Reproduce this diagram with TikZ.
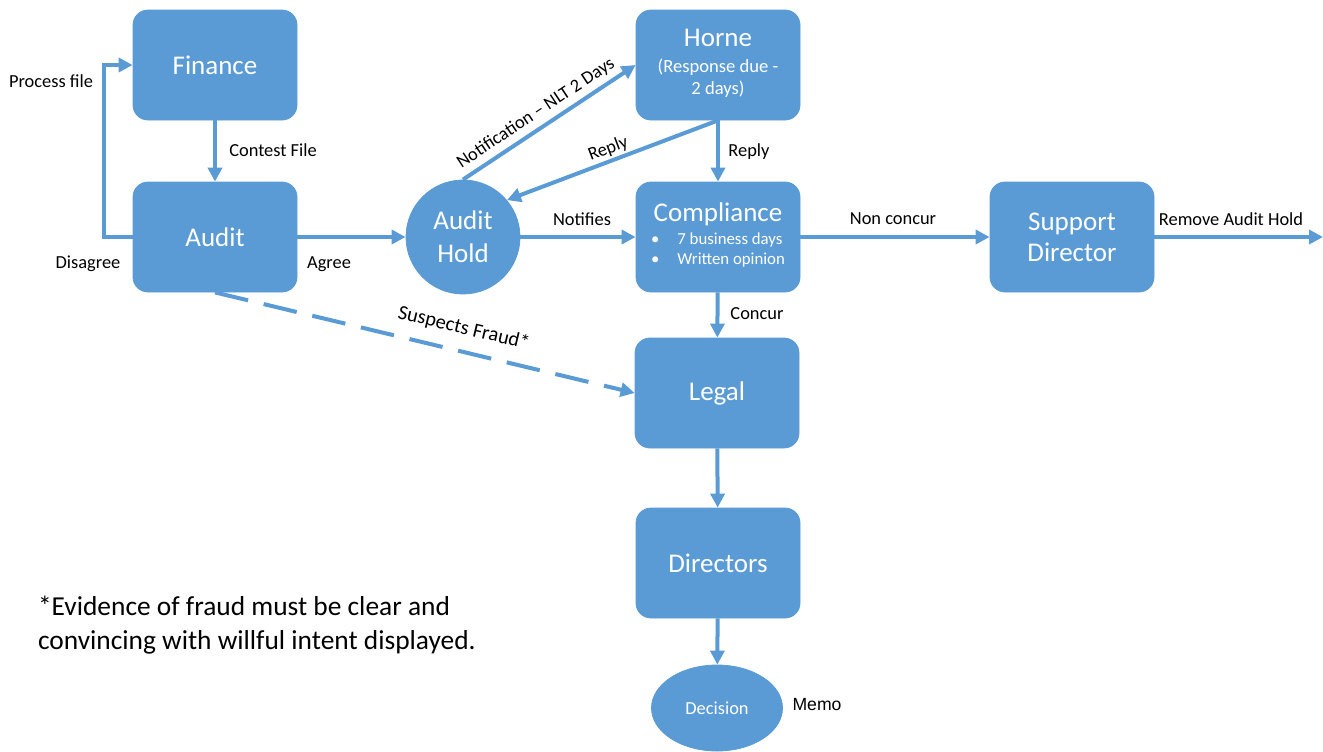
\documentclass[tikz,border=0pt]{standalone}
\usepackage{fontspec}
\setmainfont{Carlito}
\newfontfamily\memofont{Liberation Sans}
\usetikzlibrary{arrows.meta,shapes.geometric}
\definecolor{flowblue}{HTML}{5B9BD5}
\newcommand{\subfont}{\fontsize{9.3}{11}\selectfont}
\newcommand{\bulfont}{\fontsize{8.4}{10}\selectfont}
\tikzset{
  box/.style={rectangle,rounded corners=7.5pt,fill=flowblue,draw=flowblue,text=white,minimum width=82pt,minimum height=55pt,inner sep=2pt,align=center,font=\fontsize{13.5}{15.5}\selectfont},
  hold/.style={circle,fill=flowblue,draw=flowblue,text=white,minimum size=57pt,inner sep=0pt,align=center,font=\fontsize{13.5}{16.5}\selectfont},
  oval/.style={ellipse,fill=flowblue,draw=flowblue,text=white,minimum width=65.5pt,minimum height=43pt,inner sep=0pt,font=\fontsize{9.2}{11}\selectfont},
  lbl/.style={text=black,inner sep=1pt,font=\fontsize{9.2}{11}\selectfont},
  arr/.style={draw=flowblue,line width=2pt,-{Triangle[length=7pt,width=7pt]}}
}
\begin{document}
\begin{tikzpicture}[x=0.5pt,y=-0.5pt]
\useasboundingbox (0,0) rectangle (1323,751);
\node at (215,65) [box] (finance) {Finance};
\node at (215,237) [box] (audit) {Audit};
\node at (463,237) [hold] (hold) {Audit\\Hold};
\node at (718,65) [box] (horne) {Horne\\[3pt]{\subfont\begin{tabular}{@{}c@{}}(Response due -\\2 days)\end{tabular}}};
\node at (718,237) [box] (compliance) {Compliance\\[1pt]{\bulfont\begin{tabular}{@{}l@{\hspace{9pt}}l@{}}\textbullet&7 business days\\\textbullet&Written opinion\end{tabular}}};
\node at (1072,237) [box] (support) {Support\\Director};
\node at (717,393) [box] (legal) {Legal};
\node at (718,563) [box] (directors) {Directors};
\node at (717,708) [oval] (decision) {Decision};
\coordinate (exit) at (1323,237);
\node at (273,150) [lbl] (contestlbl) {Contest File};
\node at (51,81) [lbl] (processlbl) {Process file};
\node at (88,264) [lbl] (disagreelbl) {Disagree};
\node at (329,264) [lbl] (agreelbl) {Agree};
\node at (582,219) [lbl] (notifieslbl) {Notifies};
\node at (749,152) [lbl] (replylbl) {Reply};
\node at (893,219) [lbl] (nonconcurlbl) {Non concur};
\node at (1231,219) [lbl] (removelbl) {Remove Audit Hold};
\node at (757,314) [lbl] (concurlbl) {Concur};
\node at (817,705) [lbl,font=\memofont\fontsize{8.8}{10}\selectfont] (memolbl) {Memo};
\node at (31,625) [anchor=west,align=left,font=\fontsize{13.7}{17}\selectfont] (note) {*Evidence of fraud must be clear and\\convincing with willful intent displayed.};
\draw[arr] (finance) -- (audit);
\draw[arr] (audit.west) -- ++(-29,0) |- (finance.west);
\draw[arr] (audit) -- (hold);
\draw[arr] (hold.north) -- node[lbl,sloped,pos=0.47,above=1.5pt] (notiflbl) {Notification – NLT 2 Days} (horne.west);
\draw[arr] (horne.south) -- node[lbl,sloped,above=0pt] (backlbl) {Reply} (hold.40);
\draw[arr] (horne) -- (compliance);
\draw[arr] (hold) -- (compliance);
\draw[arr] (compliance) -- (support);
\draw[arr] (support) -- (exit);
\draw[arr] (compliance) -- (legal);
\draw[arr,dash pattern=on 17pt off 8pt] (audit.south) -- node[lbl,sloped,pos=0.58,above=5pt,font=\fontsize{10.2}{12}\selectfont] (fraudlbl) {Suspects Fraud*} (legal.west);
\draw[arr] (legal) -- (directors);
\draw[arr] (directors) -- (decision);
\end{tikzpicture}
\end{document}
